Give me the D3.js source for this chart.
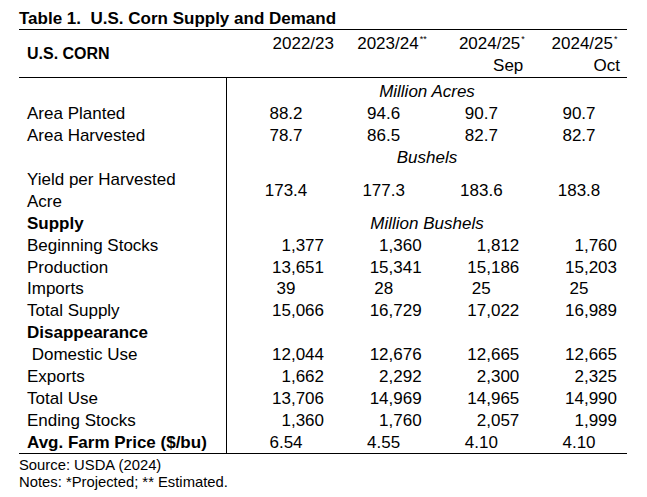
<!DOCTYPE html>
<html>
<head>
<meta charset="utf-8">
<script src="https://cdn.jsdelivr.net/npm/d3@7"></script>
<style>
  body { margin: 0; background: #fff; }
  text { font-family: "Liberation Sans", Arial, sans-serif; fill: #000; white-space: pre; }
</style>
</head>
<body>
<div id="table"></div>
<script>
// table values
var seasons = ["2022/23", "2023/24", "2024/25", "2024/25"];
var seasonNotes = ["", "**", "*", "*"];
var seasonMonths = ["", "", "Sep", "Oct"];

var areaPlanted = [88.2, 94.6, 90.7, 90.7];
var areaHarvested = [78.7, 86.5, 82.7, 82.7];
var yieldPerAcre = [173.4, 177.3, 183.6, 183.8];
var beginningStocks = [1377, 1360, 1812, 1760];
var production = [13651, 15341, 15186, 15203];
var imports = [39, 28, 25, 25];
var totalSupply = [15066, 16729, 17022, 16989];
var domesticUse = [12044, 12676, 12665, 12665];
var exportsUse = [1662, 2292, 2300, 2325];
var totalUse = [13706, 14969, 14965, 14990];
var endingStocks = [1360, 1760, 2057, 1999];
var farmPrice = [6.54, 4.55, 4.10, 4.10];

var width = 647, height = 497;

var svg = d3.select("#table")
    .append("svg")
    .attr("width", width)
    .attr("height", height);

// column centers and text lines
var x = d3.scalePoint()
    .domain(d3.range(seasons.length))
    .range([286, 579]);
var y = d3.scaleLinear()
    .domain([0, 16])
    .range([97, 448]);

// header text sits a little off the column center
var headShift = [48, 35, 39, 34],
    monthShift = [0, 0, 42, 41];

var fmt1 = d3.format(".1f"),
    fmt2 = d3.format(".2f"),
    fmtInt = d3.format(",");

// label, line, values, format, alignment
var rows = [
    {label: "Area Planted", line: 1, values: areaPlanted, f: fmt1, align: "middle"},
    {label: "Area Harvested", line: 2, values: areaHarvested, f: fmt1, align: "middle"},
    {label: "Yield per Harvested", line: 4, values: null},
    {label: "Acre", line: 5, values: null},
    {label: "Supply", line: 6, values: null, bold: true},
    {label: "Beginning Stocks", line: 7, values: beginningStocks, f: fmtInt, align: "end"},
    {label: "Production", line: 8, values: production, f: fmtInt, align: "end"},
    {label: "Imports", line: 9, values: imports, f: fmtInt, align: "middle"},
    {label: "Total Supply", line: 10, values: totalSupply, f: fmtInt, align: "end"},
    {label: "Disappearance", line: 11, values: null, bold: true},
    {label: " Domestic Use", line: 12, values: domesticUse, f: fmtInt, align: "end"},
    {label: "Exports", line: 13, values: exportsUse, f: fmtInt, align: "end"},
    {label: "Total Use", line: 14, values: totalUse, f: fmtInt, align: "end"},
    {label: "Ending Stocks", line: 15, values: endingStocks, f: fmtInt, align: "end"},
    {label: "Avg. Farm Price ($/bu)", line: 16, values: farmPrice, f: fmt2, align: "middle", bold: true}
];

var units = [
    {text: "Million Acres", line: 0},
    {text: "Bushels", line: 3},
    {text: "Million Bushels", line: 6}
];

// title
svg.append("text")
    .attr("x", 19)
    .attr("y", 24)
    .style("font-size", "17px")
    .style("font-weight", "bold")
    .text("Table 1.  U.S. Corn Supply and Demand");

// rules
var left = 19, right = 627, vx = 226.5;
svg.selectAll("hline")
    .data([29, 77, 453])
    .enter()
    .append("line")
    .attr("x1", left)
    .attr("x2", right)
    .attr("y1", function(d) { return d + 0.5; })
    .attr("y2", function(d) { return d + 0.5; })
    .attr("stroke", "black")
    .attr("stroke-width", 1);

svg.append("line")
    .attr("x1", vx)
    .attr("x2", vx)
    .attr("y1", 77)
    .attr("y2", 453)
    .attr("stroke", "black")
    .attr("stroke-width", 1);

// header
svg.append("text")
    .attr("x", 27)
    .attr("y", 59)
    .style("font-size", "16px")
    .style("font-weight", "bold")
    .text("U.S. CORN");

var head = svg.selectAll("headText")
    .data(seasons)
    .enter()
    .append("text")
    .attr("x", function(d, i) { return x(i) + headShift[i]; })
    .attr("y", 49)
    .style("font-size", "17px")
    .text(function(d) { return d; })
    .attr("text-anchor", "end");

// note marks go just right of each season
svg.selectAll("noteText")
    .data(seasonNotes)
    .enter()
    .append("text")
    .attr("x", function(d, i) { return x(i) + headShift[i] + 1; })
    .attr("y", 42)
    .style("font-size", "9px")
    .text(function(d) { return d; });

svg.selectAll("monthText")
    .data(seasonMonths)
    .enter()
    .append("text")
    .attr("x", function(d, i) { return x(i) + monthShift[i]; })
    .attr("y", 71)
    .attr("text-anchor", "end")
    .style("font-size", "17px")
    .text(function(d) { return d; });

// units
svg.selectAll("unitText")
    .data(units)
    .enter()
    .append("text")
    .attr("x", 427)
    .attr("y", function(d) { return y(d.line); })
    .attr("text-anchor", "middle")
    .style("font-size", "17px")
    .style("font-style", "italic")
    .text(function(d) { return d.text; });

// row labels
svg.selectAll("rowLabel")
    .data(rows)
    .enter()
    .append("text")
    .attr("x", 27)
    .attr("y", function(d) { return y(d.line); })
    .style("font-size", "17px")
    .style("font-weight", function(d) { return d.bold ? "bold" : "normal"; })
    .text(function(d) { return d.label; });

// values
var cells = [];
rows.filter(function(r) { return r.values; }).forEach(function(r) {
    r.values.forEach(function(v, i) {
        cells.push({row: r, col: i, value: v});
    });
});
// yield sits between its two label lines
cells = cells.concat(yieldPerAcre.map(function(v, i) {
    return {row: {line: 4.5, f: fmt1, align: "middle"}, col: i, value: v};
}));

svg.selectAll("cellText")
    .data(cells)
    .enter()
    .append("text")
    .attr("x", function(d) { return d.row.align === "end" ? x(d.col) + 38 : x(d.col); })
    .attr("y", function(d) { return y(d.row.line); })
    .attr("text-anchor", function(d) { return d.row.align; })
    .style("font-size", "17px")
    .text(function(d) { return d.row.f(d.value); });

// footnotes
svg.append("text")
    .attr("x", 19)
    .attr("y", 470)
    .style("font-size", "14.8px")
    .text("Source: USDA (2024)");
svg.append("text")
    .attr("x", 19)
    .attr("y", 487)
    .style("font-size", "14.8px")
    .text("Notes: *Projected; ** Estimated.");
</script>
</body>
</html>
